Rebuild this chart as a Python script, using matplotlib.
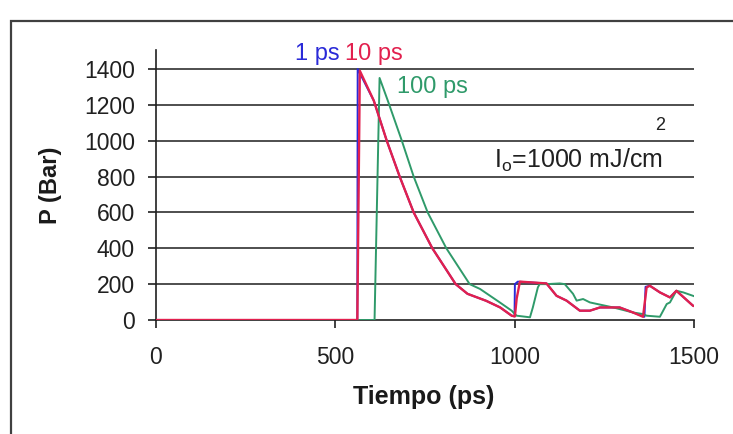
import matplotlib
matplotlib.use("Agg")
import matplotlib.pyplot as plt
from matplotlib.patches import Rectangle

plt.rcParams["font.family"] = ["Liberation Sans", "DejaVu Sans"]
plt.rcParams["mathtext.fontset"] = "custom"
plt.rcParams["mathtext.rm"] = "Liberation Sans"

# pulse 1 ps (blue)
t_1ps = [0, 562, 563, 608, 644, 680, 719, 771, 836, 869, 921, 960, 992, 1000, 1001,
         1009, 1089, 1117, 1145, 1182, 1210, 1238, 1293, 1330, 1362, 1365, 1377,
         1405, 1433, 1451, 1497, 1500]
p_1ps = [0, 0, 1400, 1223, 1000, 800, 600, 400, 200, 146, 107, 70, 24, 20, 200,
         214, 204, 135, 108, 52, 52, 70, 70, 42, 18, 185, 191,
         154, 126, 163, 80, 78]

# pulse 10 ps (red)
t_10ps = [0, 562, 569, 608, 644, 680, 719, 771, 836, 869, 921, 960, 992, 1001, 1006,
          1015, 1089, 1117, 1145, 1182, 1210, 1238, 1293, 1330, 1358, 1368, 1377,
          1405, 1433, 1451, 1497, 1500]
p_10ps = [0, 0, 1390, 1223, 1000, 800, 600, 400, 200, 146, 107, 70, 24, 20, 120,
          214, 204, 135, 108, 52, 52, 70, 70, 42, 18, 182, 191,
          154, 126, 163, 80, 78]

# pulse 100 ps (green)
t_100ps = [0, 610, 624, 647, 686, 719, 758, 810, 875, 904, 959, 992, 1000, 1006, 1043,
           1051, 1065, 1070, 1089, 1126, 1140, 1163, 1173, 1191, 1210, 1275, 1330,
           1358, 1368, 1405, 1424, 1433, 1451, 1470, 1497, 1500]
p_100ps = [0, 0, 1350, 1223, 1000, 800, 600, 400, 200, 173, 98, 52, 35, 24, 15,
           70, 182, 200, 200, 204, 200, 146, 108, 117, 98, 70, 42,
           33, 24, 18, 89, 98, 163, 154, 135, 133]

fig = plt.figure(figsize=(7.33, 4.34), dpi=100)
fig.patches.append(Rectangle((11 / 733, -0.2), 1.2, 1.2 - 21 / 434,
                             transform=fig.transFigure, fill=False,
                             edgecolor="#404040", linewidth=1.6))

ax = fig.add_axes([155.6 / 733, 1 - 320 / 434, (694 - 155.6) / 733, (320 - 50) / 434])
ax.set_xlim(0, 1500)
ax.set_ylim(0, 1400 * 270 / 251)
ax.set_yticks(range(0, 1401, 200))
ax.set_xticks([0, 500, 1000, 1500])
for yv in range(200, 1401, 200):
    ax.axhline(yv, color="#303030", linewidth=1.2, zorder=1)

ax.plot(t_1ps, p_1ps, color="#2a2ad8", linewidth=1.4, zorder=2)
ax.plot(t_100ps, p_100ps, color="#2f9a6a", linewidth=1.4, zorder=3)
ax.plot(t_10ps, p_10ps, color="#e2204e", linewidth=1.7, zorder=4)

for s in ["top", "right"]:
    ax.spines[s].set_visible(False)
for s in ["left", "bottom"]:
    ax.spines[s].set_color("#202020")
    ax.spines[s].set_linewidth(1.2)
ax.tick_params(axis="both", direction="out", length=6, width=1.2, color="#202020",
               labelsize=16.5, labelcolor="#202020")
ax.tick_params(axis="y", pad=9)
ax.tick_params(axis="x", pad=13)

fig.text(424 / 733, 1 - 397 / 434, "Tiempo (ps)", fontsize=18, fontweight="bold",
         ha="center", va="center", color="#1a1a1a")
fig.text(51 / 733, 1 - 185 / 434, "P (Bar)", fontsize=17, fontweight="bold",
         rotation=90, ha="center", va="center", color="#1a1a1a")

ax.text(450, 1485, "1 ps", color="#2a2ad8", fontsize=17, ha="center", va="center")
ax.text(607, 1485, "10 ps", color="#e2204e", fontsize=17, ha="center", va="center")
ax.text(770, 1301, "100 ps", color="#2f9a6a", fontsize=17, ha="center", va="center")
ax.text(1407, 1083, "2", color="#202020", fontsize=13, ha="center", va="center")
ax.text(1413, 888, r"I$_\mathrm{o}$=1000 mJ/cm", color="#202020", fontsize=18,
        ha="right", va="center")

fig.savefig("out.png", dpi=100, facecolor="white")
